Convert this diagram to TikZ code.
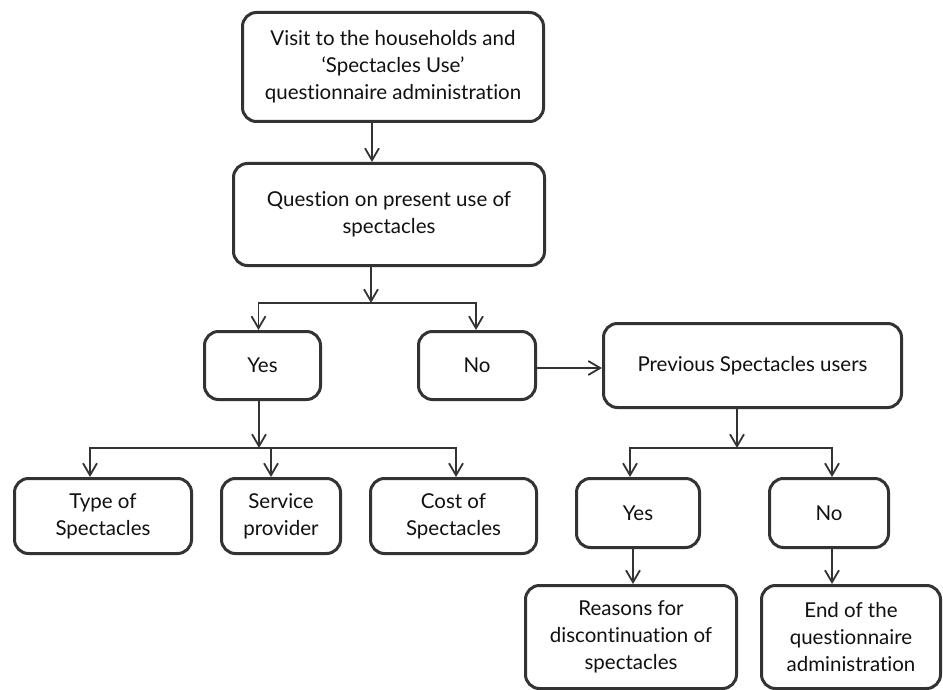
\documentclass[tikz,border=0pt]{standalone}
\usepackage{fontspec}
\setmainfont[Ligatures={TeX,NoCommon}]{Lato}
\usetikzlibrary{arrows.meta,calc}
\definecolor{edge}{HTML}{333333}
\definecolor{ink}{HTML}{111111}
\begin{document}
\begin{tikzpicture}[x=1pt,y=-1pt,
  box/.style={draw=edge,line width=3pt,rounded corners=14pt,align=center,
    text=ink,inner sep=0pt,font=\fontsize{20.5}{27}\selectfont},
  arr/.style={draw=edge,line width=1.8pt,-{Straight Barb[length=12pt,width=14pt,line width=1.8pt]}},
  ln/.style={draw=edge,line width=1.8pt}]
\useasboundingbox (0,0) rectangle (943,690);
\fill[white] (0,0) rectangle (943,690);
% nodes
\node[box,minimum width=301pt,minimum height=109pt] (top) at (393,67)
  {Visit to the households and\\‘Spectacles Use’\\questionnaire administration};
\node[box,minimum width=311pt,minimum height=102pt] (q) at (389,214.5)
  {Question on present use of\\spectacles};
\node[box,minimum width=116pt,minimum height=68pt] (yes) at (262.5,365.5) {Yes};
\node[box,minimum width=117pt,minimum height=68pt] (no) at (477,365.5) {No};
\node[box,minimum width=298pt,minimum height=84pt] (prev) at (752.5,365.5) {Previous Spectacles users};
\node[box,minimum width=177pt,minimum height=75pt] (type) at (103,516) {Type of\\Spectacles};
\node[box,minimum width=119pt,minimum height=75pt] (serv) at (281,516) {Service\\provider};
\node[box,minimum width=166pt,minimum height=75pt] (cost) at (453.5,516) {Cost of\\Spectacles};
\node[box,minimum width=123pt,minimum height=69pt] (yes2) at (638,513) {Yes};
\node[box,minimum width=119pt,minimum height=69pt] (no2) at (829,513) {No};
\node[box,minimum width=211pt,minimum height=103pt] (reas) at (631,637)
  {Reasons for\\discontinuation of\\spectacles};
\node[box,minimum width=179pt,minimum height=103pt] (end) at (851,637)
  {End of the\\questionnaire\\administration};
% junctions
\coordinate (a1) at (372,0);
\coordinate (j1) at (371,303);
\coordinate (j2) at (259,448);
\coordinate (j3) at (737,448);
% connectors
\draw[arr] (top.south -| a1) -- (q.north -| a1);
\draw[arr] (q.south -| j1) -- (j1);
\draw[arr] (j1) -| ([xshift=-4pt]yes.north);
\draw[arr] (j1) -| ([xshift=-1pt]no.north);
\draw[arr] (yes.south -| j2) -- (j2);
\draw[arr] (j2) -| ([xshift=-13pt]type.north);
\draw[arr] (j2) -| ([xshift=-10pt]serv.north);
\draw[arr] (j2) -| ([xshift=2.5pt]cost.north);
\draw[arr] (no.east |- 0,368) -- (prev.west |- 0,368);
\draw[arr] (prev.south -| j3) -- (j3);
\draw[arr] (j3) -| ([xshift=-8pt]yes2.north);
\draw[arr] (j3) -| ([xshift=3pt]no2.north);
\draw[arr] ([xshift=-5pt]yes2.south) -- ([xshift=2pt]reas.north);
\draw[arr] ([xshift=3pt]no2.south) -- ([xshift=-19pt]end.north);
\end{tikzpicture}
\end{document}
